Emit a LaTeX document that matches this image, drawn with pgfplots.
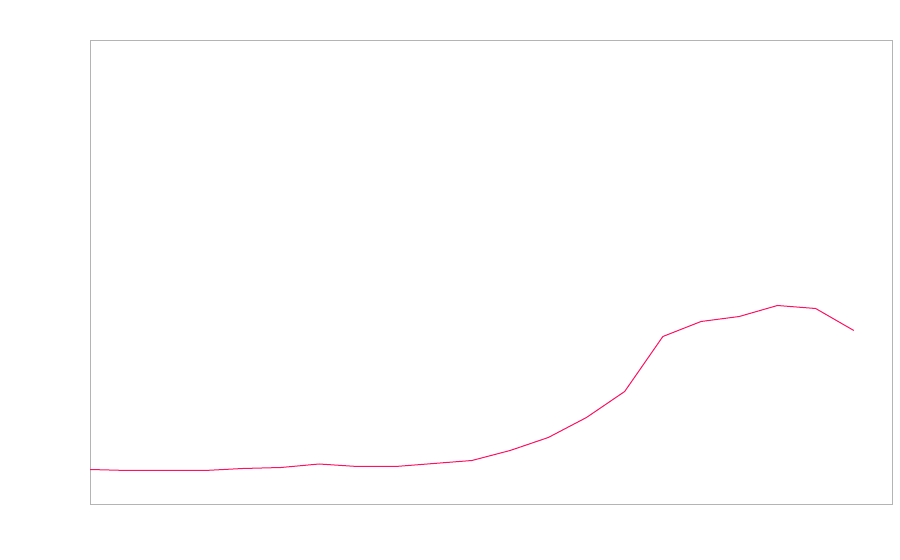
\documentclass[border=0pt]{standalone}
\usepackage{pgfplots}
\pgfplotsset{compat=1.18}
\definecolor{linepink}{HTML}{FF1060}
\definecolor{boxgray}{HTML}{B4B4B4}
\begin{document}
\begin{tikzpicture}
\useasboundingbox[fill=white] (0,0) rectangle (900bp,560bp);
\begin{axis}[
  at={(90bp,55.5bp)}, anchor=south west,
  scale only axis, width=802bp, height=464bp,
  xmin=0, xmax=21, ymin=0, ymax=464,
  xtick=\empty, ytick=\empty,
  axis line style={boxgray, line width=1bp},
]
\addplot[linepink, line width=1bp, mark=none] coordinates {
(0,35) (1,34) (2,34) (3,34) (4,36) (5,37) (6,40.5) (7,38) (8,38) (9,41) (10,44)
(11,54) (12,67) (13,87) (14,113) (15,168) (16,183) (17,188) (18,199) (19,196) (20,174)
};
\end{axis}
\end{tikzpicture}
\end{document}
